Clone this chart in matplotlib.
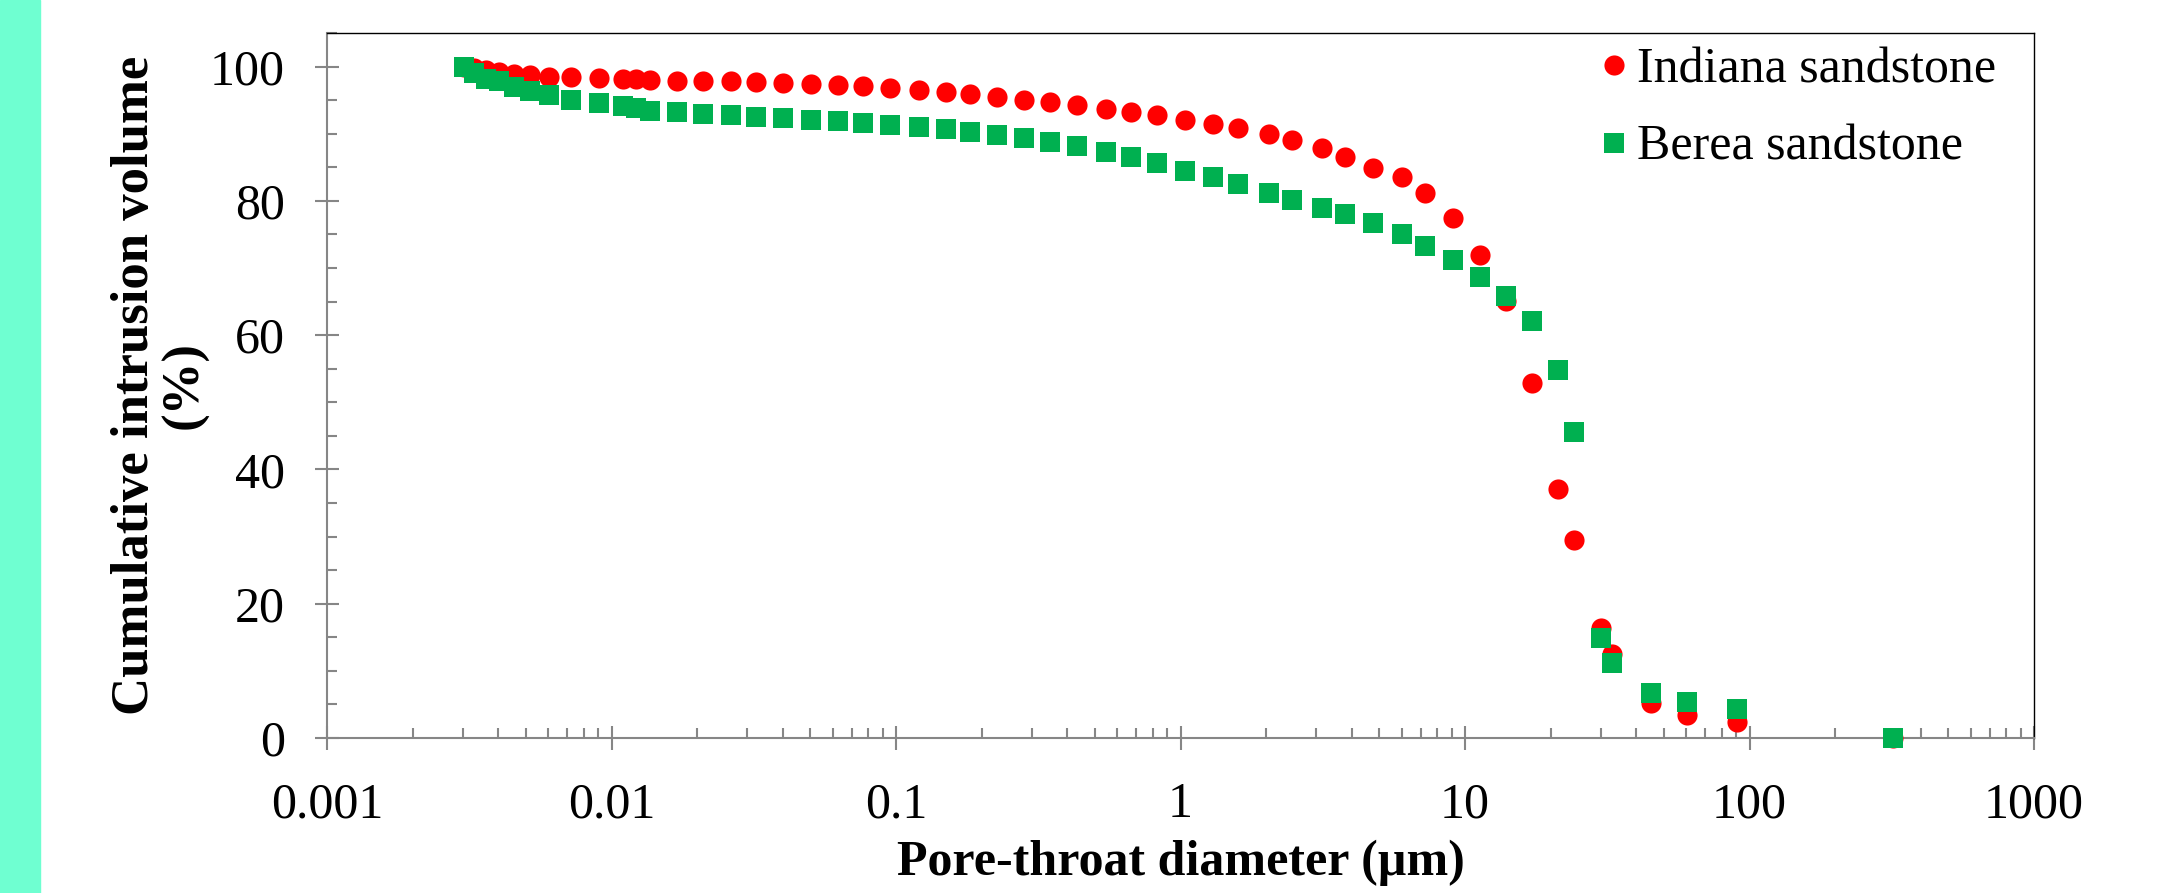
import matplotlib.pyplot as plt
import matplotlib.ticker as ticker
from matplotlib.patches import Rectangle


diameter = [0.00302, 0.00328, 0.00361, 0.00403, 0.00454, 0.00515, 0.00601, 0.0072, 0.00902, 0.011,
            0.01217, 0.01366, 0.01696, 0.0209, 0.0262, 0.0321, 0.0401, 0.0501, 0.0623, 0.0768,
            0.095, 0.1203, 0.1504, 0.182, 0.2264, 0.282, 0.349, 0.432, 0.549, 0.671,
            0.826, 1.036, 1.303, 1.598, 2.047, 2.458, 3.14, 3.78, 4.74, 6.01,
            7.22, 9.05, 11.32, 13.92, 17.25, 21.3, 24.08, 30.1, 32.8, 45.2,
            60.3, 90.2, 320]

indiana = [100, 99.8, 99.5, 99.2, 98.9, 98.7, 98.5, 98.4, 98.3, 98.2,
           98.1, 98.0, 97.9, 97.85, 97.8, 97.67, 97.5, 97.4, 97.26, 97.07,
           96.8, 96.5, 96.2, 95.9, 95.5, 95.05, 94.7, 94.25, 93.7, 93.25,
           92.75, 92.1, 91.5, 90.85, 89.9, 89.0, 87.9, 86.6, 84.9, 83.5,
           81.1, 77.4, 72.0, 65.1, 52.9, 37.1, 29.5, 16.4, 12.5, 5.25,
           3.4, 2.4, 0]

berea = [100, 99.0, 98.2, 97.8, 97.0, 96.4, 95.8, 95.0, 94.6, 94.1,
         93.8, 93.45, 93.2, 92.96, 92.76, 92.56, 92.3, 92.1, 91.9, 91.6,
         91.3, 91.0, 90.7, 90.3, 89.8, 89.3, 88.8, 88.1, 87.3, 86.5,
         85.6, 84.5, 83.5, 82.5, 81.2, 80.2, 79.0, 78.1, 76.7, 75.0,
         73.3, 71.2, 68.7, 65.9, 62.05, 54.8, 45.6, 14.9, 11.2, 6.75,
         5.4, 4.3, 0]

x_ticks = [0.001, 0.01, 0.1, 1, 10, 100, 1000]
x_labels = ['0.001', '0.01', '0.1', '1', '10', '100', '1000']


plt.rcParams['font.family'] = ['Liberation Serif', 'DejaVu Serif']

fig = plt.figure(figsize=(21.8, 8.93), dpi=100)
fig.patches.append(Rectangle((0, 0), 40 / 2180, 1, transform=fig.transFigure,
                             color='#6FFFD1', zorder=0))

ax = fig.add_axes([327 / 2180, 155 / 893, 1707 / 2180, 705 / 893])

ax.plot(diameter, indiana, 'o', color='#FF0000', ms=14.5, mew=0,
        label='Indiana sandstone', zorder=3, clip_on=False)
ax.plot(diameter, berea, 's', color='#00B050', ms=14.5, mew=0,
        label='Berea sandstone', zorder=4, clip_on=False)

ax.set_xscale('log')
ax.set_xlim(0.001, 1000)
ax.set_ylim(0, 105)

ax.yaxis.set_major_locator(ticker.MultipleLocator(20))
ax.yaxis.set_minor_locator(ticker.MultipleLocator(5))
ax.set_xticks(x_ticks, x_labels)
ax.xaxis.set_minor_locator(ticker.LogLocator(base=10, subs=range(2, 10)))
ax.xaxis.set_minor_formatter(ticker.NullFormatter())

for side in ['left', 'bottom']:
    ax.spines[side].set_color('#868686')
    ax.spines[side].set_linewidth(1.5)
for side in ['top', 'right']:
    ax.spines[side].set_color('black')
    ax.spines[side].set_linewidth(1.0)

ax.tick_params(which='major', direction='inout', length=17, width=1.5,
               color='#868686', labelsize=36)
ax.tick_params(which='minor', direction='in', length=7.5, width=1.5,
               color='#868686')
ax.tick_params(axis='y', which='major', pad=22)
ax.tick_params(axis='x', which='major', pad=23)

ax.set_xlabel('Pore-throat diameter (µm)', fontsize=36, fontweight='bold', va='center')
ax.xaxis.set_label_coords(0.5, (738 - 863) / 705)
ax.set_ylabel('Cumulative intrusion volume\n(%)', fontsize=38, fontweight='bold',
              va='center', linespacing=1.05)
ax.yaxis.set_label_coords((160 - 327) / 1707, 0.5)

ax.legend(loc='upper left', bbox_to_anchor=(1601 / 2180, (893 - 47) / 893),
          bbox_transform=fig.transFigure, frameon=False, fontsize=36,
          handlelength=0.5, handletextpad=0.22, labelspacing=0.62,
          borderaxespad=0, borderpad=0)

plt.savefig('out.png', dpi=100)
